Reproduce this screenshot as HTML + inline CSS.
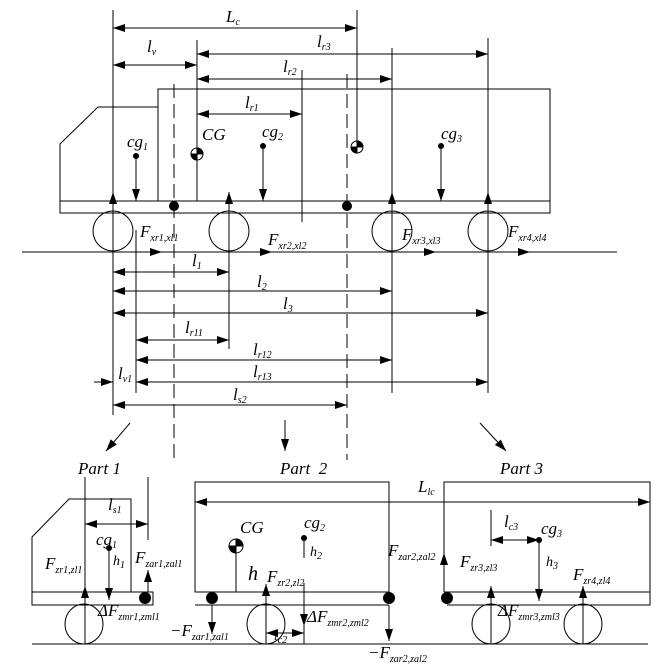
<!DOCTYPE html>
<html><head><meta charset="utf-8"><style>
html,body{margin:0;padding:0;background:#fff;}
svg{display:block;}
text{font-family:"Liberation Serif",serif;font-style:italic;font-size:17px;fill:#000;}
.s{font-size:10px;}
</style></head><body>
<svg width="667" height="668" viewBox="0 0 667 668" xmlns="http://www.w3.org/2000/svg">
<defs>
<marker id="a" markerWidth="12" markerHeight="8" refX="12" refY="4" orient="auto-start-reverse" markerUnits="userSpaceOnUse"><path d="M0,0 L12,4 L0,8 z" fill="#000"/></marker>
</defs>
<g stroke="#000" stroke-width="1" fill="none">
<!-- verticals -->
<line x1="113" y1="10" x2="113" y2="415"/>
<line x1="357" y1="10" x2="357" y2="147"/>
<line x1="197" y1="40" x2="197" y2="201"/>
<line x1="488" y1="38" x2="488" y2="393"/>
<line x1="392" y1="48" x2="392" y2="393"/>
<line x1="302" y1="70" x2="302" y2="222"/>
<line x1="136" y1="230" x2="136" y2="393"/>
<line x1="229" y1="230" x2="229" y2="349"/>
<line x1="174" y1="84" x2="174" y2="460" stroke-dasharray="14,6"/>
<line x1="347" y1="74" x2="347" y2="460" stroke-dasharray="14,6"/>
<!-- dimension arrows top -->
<line x1="113" y1="28" x2="357" y2="28" marker-start="url(#a)" marker-end="url(#a)"/>
<line x1="197" y1="54" x2="488" y2="54" marker-start="url(#a)" marker-end="url(#a)"/>
<line x1="113" y1="65" x2="197" y2="65" marker-start="url(#a)" marker-end="url(#a)"/>
<line x1="197" y1="79" x2="392" y2="79" marker-start="url(#a)" marker-end="url(#a)"/>
<line x1="197" y1="114" x2="302" y2="114" marker-start="url(#a)" marker-end="url(#a)"/>
<!-- body -->
<rect x="158" y="89" width="392" height="112"/>
<path d="M158,107 L98,107 L60,144 L60,213 L550,213 L550,201 L60,201"/>
<!-- cg arrows -->
<line x1="136" y1="156" x2="136" y2="201" marker-end="url(#a)"/>
<line x1="263" y1="146" x2="263" y2="201" marker-end="url(#a)"/>
<line x1="441" y1="146" x2="441" y2="201" marker-end="url(#a)"/>
<!-- wheels -->
<ellipse cx="113" cy="231" rx="20" ry="20"/>
<ellipse cx="229" cy="231" rx="20" ry="20"/>
<ellipse cx="392" cy="231" rx="20" ry="20"/>
<ellipse cx="488" cy="231" rx="20" ry="20"/>
<line x1="22" y1="252" x2="617" y2="252"/>
<!-- up arrows -->
<line x1="113" y1="252" x2="113" y2="192" marker-end="url(#a)"/>
<line x1="229" y1="252" x2="229" y2="192" marker-end="url(#a)"/>
<line x1="392" y1="252" x2="392" y2="192" marker-end="url(#a)"/>
<line x1="488" y1="252" x2="488" y2="192" marker-end="url(#a)"/>
<!-- ground force arrows -->
<line x1="136" y1="252" x2="162" y2="252" marker-end="url(#a)"/>
<line x1="250" y1="252" x2="272" y2="252" marker-end="url(#a)"/>
<line x1="410" y1="252" x2="436" y2="252" marker-end="url(#a)"/>
<line x1="505" y1="252" x2="530" y2="252" marker-end="url(#a)"/>
<!-- lower dims -->
<line x1="113" y1="272" x2="229" y2="272" marker-start="url(#a)" marker-end="url(#a)"/>
<line x1="113" y1="291" x2="392" y2="291" marker-start="url(#a)" marker-end="url(#a)"/>
<line x1="113" y1="313" x2="488" y2="313" marker-start="url(#a)" marker-end="url(#a)"/>
<line x1="136" y1="340" x2="229" y2="340" marker-start="url(#a)" marker-end="url(#a)"/>
<line x1="136" y1="360" x2="392" y2="360" marker-start="url(#a)" marker-end="url(#a)"/>
<line x1="136" y1="382" x2="488" y2="382" marker-start="url(#a)" marker-end="url(#a)"/>
<line x1="94" y1="382" x2="113" y2="382" marker-end="url(#a)"/>
<line x1="113" y1="405" x2="347" y2="405" marker-start="url(#a)" marker-end="url(#a)"/>
<!-- part arrows -->
<line x1="130" y1="423" x2="106" y2="451" marker-end="url(#a)"/>
<line x1="285" y1="420" x2="285" y2="451" marker-end="url(#a)"/>
<line x1="480" y1="423" x2="506" y2="451" marker-end="url(#a)"/>
<!-- Part1 -->
<line x1="85" y1="477" x2="85" y2="644"/>
<line x1="148" y1="477" x2="148" y2="540"/>
<path d="M131,592 L131,499 L69,499 L32,537 L32,605 L153,605 L153,592 L32,592"/>
<line x1="85" y1="524" x2="148" y2="524" marker-start="url(#a)" marker-end="url(#a)"/>
<line x1="109" y1="548" x2="109" y2="600" marker-end="url(#a)"/>
<line x1="85" y1="644" x2="85" y2="586" marker-end="url(#a)"/>
<line x1="148" y1="592" x2="148" y2="570" marker-end="url(#a)"/>
<ellipse cx="84" cy="624" rx="19" ry="20"/>
<!-- Part2 -->
<rect x="195" y="482" width="194" height="110"/>
<line x1="195" y1="605" x2="389" y2="605"/>
<line x1="195" y1="502" x2="650" y2="502" marker-start="url(#a)" marker-end="url(#a)"/>
<line x1="236" y1="546" x2="236" y2="592"/>
<line x1="304" y1="538" x2="304" y2="558"/>
<line x1="266" y1="644" x2="266" y2="584" marker-end="url(#a)"/>
<line x1="304" y1="583" x2="304" y2="644"/>
<line x1="304" y1="583" x2="304" y2="626" marker-end="url(#a)"/>
<line x1="266" y1="633" x2="304" y2="633" marker-start="url(#a)" marker-end="url(#a)"/>
<line x1="212" y1="605" x2="212" y2="634" marker-end="url(#a)"/>
<line x1="389" y1="605" x2="389" y2="641" marker-end="url(#a)"/>
<ellipse cx="266" cy="624" rx="19" ry="20"/>
<!-- Part3 -->
<path d="M444,592 L444,482 L650,482 L650,605 L447,605 M444,592 L650,592"/>
<line x1="444" y1="592" x2="444" y2="553" marker-end="url(#a)"/>
<line x1="491" y1="510" x2="491" y2="546"/>
<line x1="491" y1="540" x2="539" y2="540" marker-start="url(#a)" marker-end="url(#a)"/>
<line x1="491" y1="644" x2="491" y2="586" marker-end="url(#a)"/>
<line x1="539" y1="538" x2="539" y2="601" marker-end="url(#a)"/>
<line x1="583" y1="644" x2="583" y2="586" marker-end="url(#a)"/>
<ellipse cx="491" cy="624" rx="19" ry="20"/>
<ellipse cx="583" cy="624" rx="19" ry="20"/>
<line x1="32" y1="644" x2="648" y2="644"/>
</g>
<!-- dots -->
<g fill="#000">
<circle cx="174" cy="206" r="5"/><circle cx="347" cy="206" r="5"/>
<circle cx="136" cy="156" r="3"/><circle cx="263" cy="146" r="3"/><circle cx="441" cy="146" r="3"/>
<circle cx="145" cy="598" r="6"/><circle cx="212" cy="598" r="6"/><circle cx="389" cy="598" r="6"/><circle cx="447" cy="598" r="6"/>
<circle cx="109" cy="548" r="3"/><circle cx="304" cy="538" r="3"/><circle cx="539" cy="540" r="3"/>
</g>
<!-- CG symbols -->
<g stroke="#000" stroke-width="1">
<circle cx="197" cy="154" r="6" fill="#fff"/><path d="M197,154 L197,148 A6,6 0 0 1 203,154 Z M197,154 L191,154 A6,6 0 0 0 197,160 Z" fill="#000"/>
<circle cx="357" cy="147" r="6" fill="#fff"/><path d="M357,147 L357,141 A6,6 0 0 1 363,147 Z M357,147 L351,147 A6,6 0 0 0 357,153 Z" fill="#000"/>
<circle cx="236" cy="546" r="7" fill="#fff"/><path d="M236,546 L236,539 A7,7 0 0 1 243,546 Z M236,546 L229,546 A7,7 0 0 0 236,553 Z" fill="#000"/>
</g>
<!-- labels -->
<text x="226" y="22">L<tspan class="s" dy="3">c</tspan></text>
<text x="147" y="52">l<tspan class="s" dy="3">v</tspan></text>
<text x="317" y="47">l<tspan class="s" dy="3">r3</tspan></text>
<text x="283" y="72">l<tspan class="s" dy="3">r2</tspan></text>
<text x="245" y="108">l<tspan class="s" dy="3">r1</tspan></text>
<text x="202" y="140">CG</text>
<text x="127" y="147">cg<tspan class="s" dy="3">1</tspan></text>
<text x="262" y="137">cg<tspan class="s" dy="3">2</tspan></text>
<text x="441" y="139">cg<tspan class="s" dy="3">3</tspan></text>
<text x="140" y="237">F<tspan class="s" dy="4">xr1,xl1</tspan></text>
<text x="268" y="245">F<tspan class="s" dy="4">xr2,xl2</tspan></text>
<text x="402" y="240">F<tspan class="s" dy="4">xr3,xl3</tspan></text>
<text x="508" y="237">F<tspan class="s" dy="4">xr4,xl4</tspan></text>
<text x="192" y="266">l<tspan class="s" dy="3">1</tspan></text>
<text x="257" y="287">l<tspan class="s" dy="3">2</tspan></text>
<text x="283" y="309">l<tspan class="s" dy="3">3</tspan></text>
<text x="185" y="333">l<tspan class="s" dy="3">r11</tspan></text>
<text x="253" y="355">l<tspan class="s" dy="3">r12</tspan></text>
<text x="253" y="377">l<tspan class="s" dy="3">r13</tspan></text>
<text x="118" y="379">l<tspan class="s" dy="3">v1</tspan></text>
<text x="233" y="400">l<tspan class="s" dy="3">s2</tspan></text>
<text x="78" y="474">Part 1</text>
<text x="280" y="474">Part&#160; 2</text>
<text x="500" y="474">Part 3</text>
<text x="108" y="510">l<tspan class="s" dy="3">s1</tspan></text>
<text x="96" y="545">cg<tspan class="s" dy="3">1</tspan></text>
<text x="113" y="565" style="font-size:14px">h<tspan class="s" dy="3">1</tspan></text>
<text x="45" y="569">F<tspan class="s" dy="4">zr1,zl1</tspan></text>
<text x="135" y="563">F<tspan class="s" dy="4">zar1,zal1</tspan></text>
<text x="98" y="616">ΔF<tspan class="s" dy="4">zmr1,zml1</tspan></text>
<text x="170" y="636">−F<tspan class="s" dy="4">zar1,zal1</tspan></text>
<text x="418" y="492">L<tspan class="s" dy="3">lc</tspan></text>
<text x="240" y="533">CG</text>
<text x="304" y="528">cg<tspan class="s" dy="3">2</tspan></text>
<text x="310" y="556" style="font-size:14px">h<tspan class="s" dy="3">2</tspan></text>
<text x="248" y="580" style="font-size:20px">h</text>
<text x="267" y="582">F<tspan class="s" dy="4">zr2,zl2</tspan></text>
<text x="307" y="622">ΔF<tspan class="s" dy="4">zmr2,zml2</tspan></text>
<text x="274" y="640" style="font-size:13px">l<tspan class="s" dy="3">c2</tspan></text>
<text x="388" y="556">F<tspan class="s" dy="4">zar2,zal2</tspan></text>
<text x="368" y="658">−F<tspan class="s" dy="4">zar2,zal2</tspan></text>
<text x="504" y="527">l<tspan class="s" dy="3">c3</tspan></text>
<text x="541" y="534">cg<tspan class="s" dy="3">3</tspan></text>
<text x="546" y="566" style="font-size:14px">h<tspan class="s" dy="3">3</tspan></text>
<text x="460" y="567">F<tspan class="s" dy="4">zr3,zl3</tspan></text>
<text x="573" y="580">F<tspan class="s" dy="4">zr4,zl4</tspan></text>
<text x="498" y="616">ΔF<tspan class="s" dy="4">zmr3,zml3</tspan></text>
</svg>
</body></html>
